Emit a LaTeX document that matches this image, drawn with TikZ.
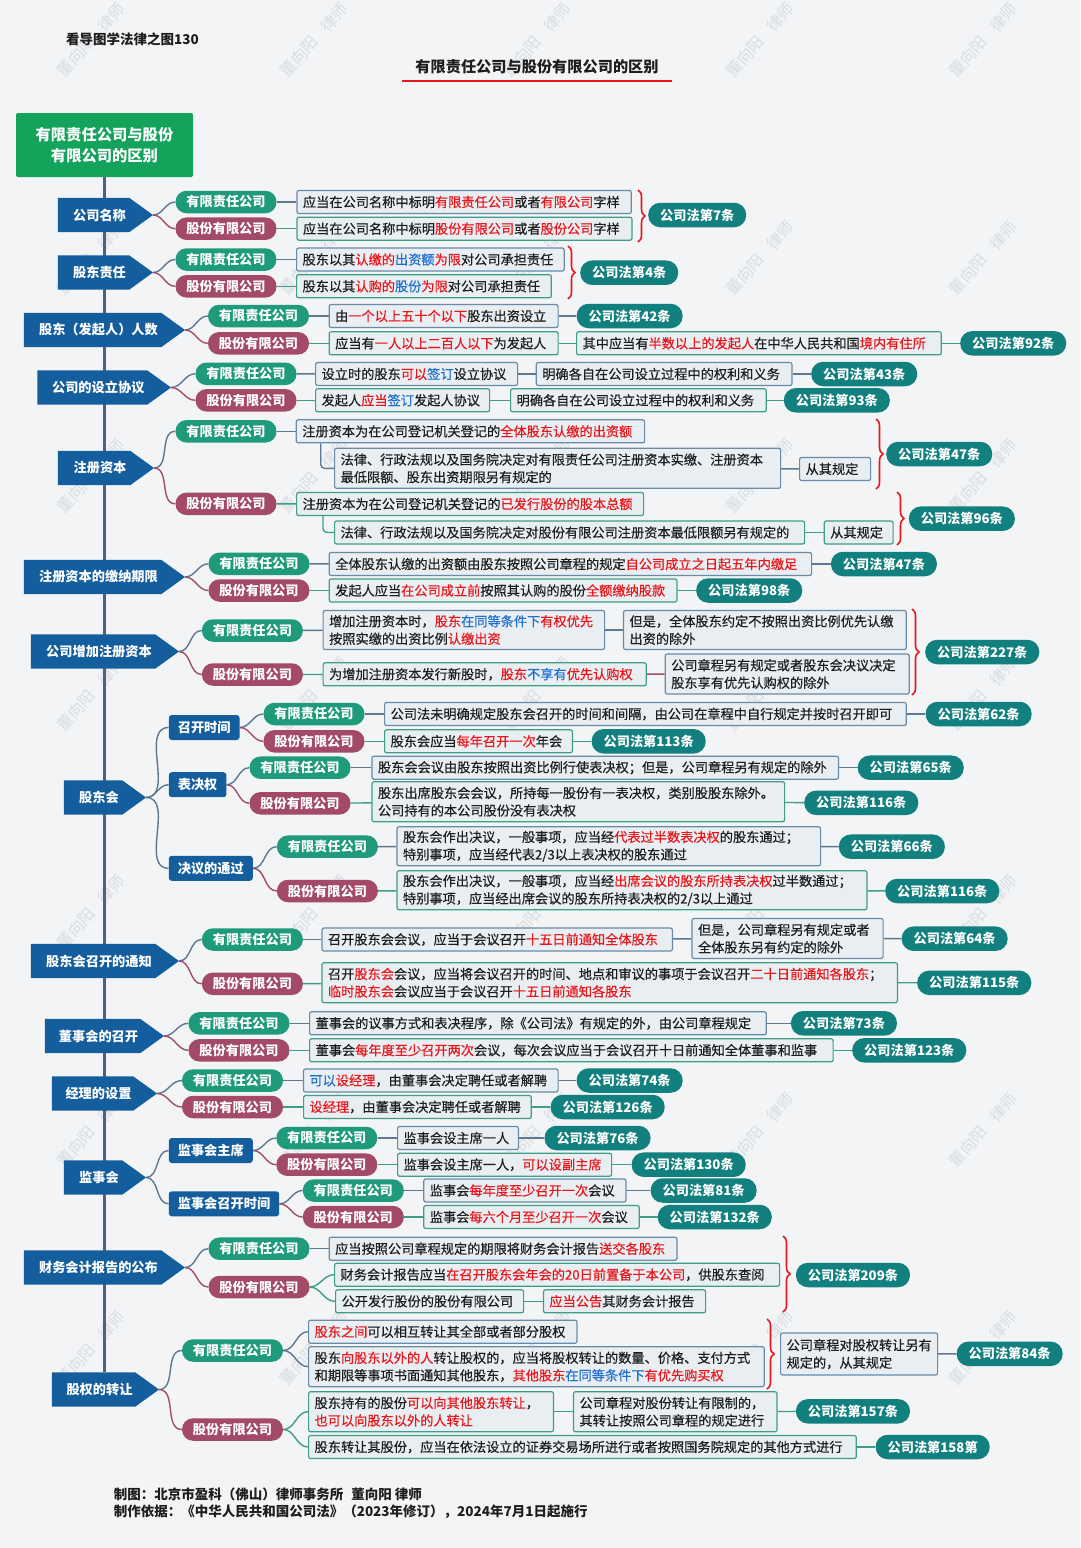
\documentclass[tikz,border=0pt]{standalone}
\usepackage{fontspec}
\setmainfont{Noto Sans CJK SC}
\newfontfamily\bodyfont{Noto Sans CJK SC}[FakeBold=0.4]
\usetikzlibrary{decorations.pathreplacing,calc}
\pgfdeclarelayer{bg}
\pgfdeclarelayer{lines}
\pgfsetlayers{bg,lines,main}

\definecolor{pagebg}{HTML}{F2F4F6}
\definecolor{wmcol}{HTML}{D9DDE1}
\definecolor{catblue}{HTML}{155E9E}
\definecolor{rootgreen}{HTML}{13A35B}
\definecolor{ltdfill}{HTML}{1F9B7C}
\definecolor{jscfill}{HTML}{A34A66}
\definecolor{lawfill}{HTML}{12807E}
\definecolor{boxfill}{HTML}{E8EEF2}
\definecolor{ltdedge}{HTML}{6A8BA6}
\definecolor{jscedge}{HTML}{3F9E86}
\definecolor{ltdwire}{HTML}{5E7891}
\definecolor{jscwire}{HTML}{A24D69}
\definecolor{trunkcol}{HTML}{4B6380}
\definecolor{hlred}{HTML}{E8171C}
\definecolor{hlblue}{HTML}{1F6FCF}
\definecolor{ink}{HTML}{1E1E1E}

\newcommand\fbody{\bodyfont\fontsize{13.2pt}{17.5pt}\selectfont}
\newcommand\fpill{\fontsize{13.2pt}{16pt}\selectfont}
\newcommand\hlr[1]{\textcolor{hlred}{#1}}
\newcommand\hlb[1]{\textcolor{hlblue}{#1}}

% category arrow: name, left x, tip x, centre y, label
\newcommand\mkcat[5]{%
  \pgfmathsetmacro\catw{#3-#2-12}%
  \node[catlabel, minimum width=\catw pt] (#1) at ({(#2+#3-12)/2},#4) {#5};
  \coordinate (#1-tip) at (#3,#4);
  \begin{pgfonlayer}{lines}
    \fill[catblue] (#1.north west) -- ([xshift=-12pt]#1.north east) -- (#1-tip)
      -- ([xshift=-12pt]#1.south east) -- (#1.south west) -- cycle;
  \end{pgfonlayer}}
\newcommand\mkltd[3]{\node[ltdpill] (#1) at (#2,#3) {有限责任公司};}
\newcommand\mkjsc[3]{\node[jscpill] (#1) at (#2,#3) {股份有限公司};}
\newcommand\mklaw[4]{\node[lawpill] (#1) at (#2,#3) {#4};}
% text box: style, name, left x, right x, centre y, text
\newcommand\mkbox[6]{%
  \pgfmathsetmacro\boxtw{#4-#3-12}%
  \node[#1, text width=\boxtw pt] (#2) at (#3,#5) {#6};}

\begin{document}
\begin{tikzpicture}[x=1pt,y=-1pt,
  catlabel/.style={inner sep=0pt, minimum height=34pt, text=white,
    font=\bfseries\fpill},
  subcat/.style={fill=catblue, rounded corners=3pt, minimum height=25pt,
    inner xsep=9pt, inner ysep=0pt, anchor=west, text=white, font=\bfseries\fpill},
  pill/.style={rounded corners=11pt, minimum height=22.5pt, minimum width=101pt,
    inner sep=0pt, text=white, font=\bfseries\fpill},
  ltdpill/.style={pill, fill=ltdfill},
  jscpill/.style={pill, fill=jscfill},
  lawpill/.style={fill=lawfill, rounded corners=12pt, minimum height=24.5pt,
    inner xsep=12pt, inner ysep=0pt, anchor=west, text=white, font=\bfseries\fpill},
  cbox/.style={fill=boxfill, line width=1.2pt, rounded corners=2pt, inner xsep=6pt,
    inner ysep=2pt, minimum height=23pt, anchor=west, align=left, text=ink,
    font=\fbody},
  boxl/.style={cbox, draw=ltdedge},
  boxj/.style={cbox, draw=jscedge},
  tall/.style={minimum height=40pt},
  wl/.style={draw=ltdwire, line width=1.4pt},
  wj/.style={draw=jscwire, line width=1.4pt},
  gl/.style={draw=jscedge, line width=1.4pt},
  bracer/.style={draw=hlred, line width=1.6pt, decorate,
    decoration={brace, amplitude=7pt}},
  wmark/.style={text=wmcol, rotate=48, font=\fontsize{16pt}{18pt}\selectfont},
  plain/.style={inner sep=0pt, anchor=west, text=ink}
]
\useasboundingbox (0,0) rectangle (1080,1548);

\begin{pgfonlayer}{bg}
  \fill[pagebg] (0,0) rectangle (1080,1548);
  \foreach \i in {0,...,4}{\foreach \j in {0,...,6}{
    \node[wmark] (wm-\i-\j) at ({91+223*\i},{40+218*\j}) {董向阳\hspace{0.8em}律师};}}
\end{pgfonlayer}

% headings
\node[plain, font=\bfseries\fontsize{13.5pt}{16pt}\selectfont] (series) at (66,39) {看导图学法律之图130};
\node[inner sep=0pt, text=ink, font=\bfseries\fontsize{15.2pt}{18pt}\selectfont] (title) at (537,66.7) {有限责任公司与股份有限公司的区别};
\coordinate (ulA) at (402,80.7);
\coordinate (ulB) at (672,80.7);
\draw[hlred, line width=2pt] (ulA) -- (ulB);

\node[fill=rootgreen, rounded corners=2pt, minimum width=177pt, minimum height=64pt,
  inner sep=0pt, align=center, text=white,
  font=\bfseries\fontsize{15.3pt}{21pt}\selectfont] (root) at (104.5,145) {有限责任公司与股份\\有限公司的区别};

% ---------- 公司名称
\mkcat{c1}{58}{153}{215}{公司名称}
\mkltd{r1a}{226}{202}
\mkjsc{r1b}{226}{228.7}
\mkbox{boxl}{r1a1}{296.4}{630.7}{202}{应当在公司名称中标明\hlr{有限责任公司}或者\hlr{有限公司}字样}
\mkbox{boxj}{r1b1}{296.4}{631.4}{228.7}{应当在公司名称中标明\hlr{股份有限公司}或者\hlr{股份公司}字样}
\mklaw{l1}{648}{215}{公司法第7条}
\coordinate (br1t) at (638,190);
\coordinate (br1b) at (638,242);

% ---------- 股东责任
\mkcat{c2}{58}{153}{272.5}{股东责任}
\mkltd{r2a}{226}{259.5}
\mkjsc{r2b}{226}{286.3}
\mkbox{boxl}{r2a1}{296}{563.6}{259.5}{股东以其\hlr{认缴的}\hlb{出资额}\hlr{为限}对公司承担责任}
\mkbox{boxj}{r2b1}{296}{550.7}{286.3}{股东以其\hlr{认购的}\hlb{股份}\hlr{为限}对公司承担责任}
\mklaw{l2}{580}{272.7}{公司法第4条}
\coordinate (br2t) at (568,246);
\coordinate (br2b) at (568,299);

% ---------- 股东（发起人）人数
\mkcat{c3}{24}{185}{330}{股东（发起人）人数}
\mkltd{r3a}{258.5}{316}
\mkjsc{r3b}{258.5}{343.3}
\mkbox{boxl}{r3a1}{328.6}{557.5}{316}{由\hlr{一个以上五十个以下}股东出资设立}
\mkbox{boxj}{r3b1}{328.6}{557.5}{343.3}{应当有\hlr{一人以上二百人以下}为发起人}
\mkbox{boxj}{r3b2}{576}{940.7}{343.3}{其中应当有\hlr{半数以上的发起人}在中华人民共和国\hlr{境内有住所}}
\mklaw{l3a}{576.4}{316}{公司法第42条}
\mklaw{l3b}{960}{343.3}{公司法第92条}

% ---------- 公司的设立协议
\mkcat{c4}{37.5}{171}{387.5}{公司的设立协议}
\mkltd{r4a}{246}{373.8}
\mkjsc{r4b}{246}{400.3}
\mkbox{boxl}{r4a1}{315}{517}{374}{设立时的股东\hlr{可以}\hlb{签订}设立协议}
\mkbox{boxl}{r4a2}{535.7}{791.4}{374}{明确各自在公司设立过程中的权利和义务}
\mkbox{boxj}{r4b1}{315}{489}{400.3}{发起人\hlr{应当}\hlb{签订}发起人协议}
\mkbox{boxj}{r4b2}{510}{765.7}{400.3}{明确各自在公司设立过程中的权利和义务}
\mklaw{l4a}{811}{374}{公司法第43条}
\mklaw{l4b}{783.6}{400.3}{公司法第93条}

% ---------- 注册资本
\mkcat{c5}{58}{154}{468}{注册资本}
\mkltd{r5a}{226}{431.3}
\mkjsc{r5b}{226}{503.8}
\mkbox{boxl}{r5a1}{295.7}{644}{431.3}{注册资本为在公司登记机关登记的\hlr{全体股东认缴的出资额}}
\mkbox{boxl,tall}{r5a2}{334}{780}{468.3}{法律、行政法规以及国务院决定对有限责任公司注册资本实缴、注册资本\\最低限额、股东出资期限另有规定的}
\mkbox{boxl}{r5a3}{799}{870}{469}{从其规定}
\mkbox{boxj}{r5b1}{296}{643}{504}{注册资本为在公司登记机关登记的\hlr{已发行股份的股本总额}}
\mkbox{boxj}{r5b2}{334}{804}{532.5}{法律、行政法规以及国务院决定对股份有限公司注册资本最低限额另有规定的}
\mkbox{boxj}{r5b3}{823.6}{892.5}{532.5}{从其规定}
\mklaw{l5a}{886}{454}{公司法第47条}
\mklaw{l5b}{908.6}{518.7}{公司法第96条}
\coordinate (br5t) at (876,419);
\coordinate (br5b) at (876,489);
\coordinate (br5u) at (897,492);
\coordinate (br5v) at (897,545);

% ---------- 注册资本的缴纳期限
\mkcat{c6}{24}{185}{577}{注册资本的缴纳期限}
\mkltd{r6a}{259}{563.8}
\mkjsc{r6b}{259}{590.5}
\mkbox{boxl}{r6a1}{328.6}{811}{564}{全体股东认缴的出资额由股东按照公司章程的规定\hlr{自公司成立之日起五年内缴足}}
\mkbox{boxj}{r6b1}{328.6}{676.4}{590.5}{发起人应当\hlr{在公司成立前}按照其认购的股份\hlr{全额缴纳股款}}
\mklaw{l6a}{830.7}{564}{公司法第47条}
\mklaw{l6b}{696}{590.5}{公司法第98条}

% ---------- 公司增加注册资本
\mkcat{c7}{31}{179}{651.5}{公司增加注册资本}
\mkltd{r7a}{252.4}{630.5}
\mkjsc{r7b}{252.4}{674.5}
\mkbox{boxl,minimum height=39pt}{r7a1}{322.5}{604}{630}{增加注册资本时，\hlr{股东}\hlb{在同等条件下}\hlr{有权优先}\\按照实缴的出资比例\hlr{认缴出资}}
\mkbox{boxl,minimum height=39pt}{r7a2}{622.9}{905.7}{630}{但是，全体股东约定不按照出资比例优先认缴\\出资的除外}
\mkbox{boxj}{r7b1}{322.5}{645.7}{674.3}{为增加注册资本发行新股时，\hlr{股东}\hlb{不享有}\hlr{优先认购权}}
\mkbox{boxl,tall}{r7b2}{664.6}{908.6}{674}{公司章程另有规定或者股东会决议决定\\股东享有优先认购权的除外}
\mklaw{l7}{925}{652}{公司法第227条}
\coordinate (br7t) at (912,609);
\coordinate (br7b) at (912,695);

% ---------- 股东会
\mkcat{c8}{64}{146}{797.5}{股东会}
\node[subcat] (s1) at (168.6,727.5) {召开时间};
\node[subcat] (s2) at (168.6,784.7) {表决权};
\node[subcat] (s3) at (168.6,868.3) {决议的通过};
\mkltd{r8a}{314}{714}
\mkjsc{r8b}{314}{741.3}
\mkbox{boxl}{r8a1}{384}{905.7}{714}{公司法未明确规定股东会召开的时间和间隔，由公司在章程中自行规定并按时召开即可}
\mkbox{boxj}{r8b1}{384}{571.8}{741.3}{股东会应当\hlr{每年召开一次}年会}
\mklaw{l8a}{925.4}{714}{公司法第62条}
\mklaw{l8b}{591.4}{741.3}{公司法第113条}
\mkltd{r8c}{300}{767.7}
\mkjsc{r8d}{300}{803.3}
\mkbox{boxl}{r8c1}{371.4}{837.9}{767.7}{股东会会议由股东按照出资比例行使表决权；但是，公司章程另有规定的除外}
\mkbox{boxj,tall}{r8d1}{371.4}{784}{801.7}{股东出席股东会会议，所持每一股份有一表决权，类别股股东除外。\\公司持有的本公司股份没有表决权}
\mklaw{l8c}{857.5}{767.7}{公司法第65条}
\mklaw{l8d}{804}{802.8}{公司法第116条}
\mkltd{r8e}{327.4}{846.7}
\mkjsc{r8f}{327.4}{891}
\mkbox{boxl,minimum height=39pt}{r8e1}{396.4}{820}{846.3}{股东会作出决议，一般事项，应当经\hlr{代表过半数表决权}的股东通过；\\特别事项，应当经代表2/3以上表决权的股东通过}
\mkbox{boxj,minimum height=39pt}{r8f1}{396.4}{866.4}{890.3}{股东会作出决议，一般事项，应当经\hlr{出席会议的股东所持表决权}过半数通过；\\特别事项，应当经出席会议的股东所持表决权的2/3以上通过}
\mklaw{l8e}{838.6}{846.7}{公司法第66条}
\mklaw{l8f}{885}{891}{公司法第116条}

% ---------- 股东会召开的通知
\mkcat{c9}{31}{179}{961}{股东会召开的通知}
\mkltd{r9a}{252.4}{939.5}
\mkjsc{r9b}{252.4}{983.8}
\mkbox{boxl}{r9a1}{321.4}{671.8}{939.5}{召开股东会会议，应当于会议召开\hlr{十五日前通知全体股东}}
\mkbox{boxl,tall}{r9a2}{691.4}{882.5}{938.5}{但是，公司章程另有规定或者\\全体股东另有约定的除外}
\mkbox{boxj,tall}{r9b1}{321.4}{896.8}{982.7}{召开\hlr{股东会}会议，应当将会议召开的时间、地点和审议的事项于会议召开\hlr{二十日前通知各股东}；\\\hlr{临时股东会}会议应当于会议召开\hlr{十五日前通知各股东}}
\mklaw{l9a}{901.4}{938.7}{公司法第64条}
\mklaw{l9b}{917}{982.8}{公司法第115条}

% ---------- 董事会的召开
\mkcat{c10}{45}{164}{1036}{董事会的召开}
\mkltd{r10a}{239}{1023.3}
\mkjsc{r10b}{239}{1050.3}
\mkbox{boxl}{r10a1}{309}{765.7}{1023.3}{董事会的议事方式和表决程序，除《公司法》有规定的外，由公司章程规定}
\mkbox{boxj}{r10b1}{309}{832.5}{1050.3}{董事会\hlr{每年度至少召开两次}会议，每次会议应当于会议召开十日前通知全体董事和监事}
\mklaw{l10a}{790.7}{1023.3}{公司法第73条}
\mklaw{l10b}{852}{1050.3}{公司法第123条}

% ---------- 经理的设置
\mkcat{c11}{52}{157}{1093.5}{经理的设置}
\mkltd{r11a}{232.5}{1080.5}
\mkjsc{r11b}{232.5}{1107}
\mkbox{boxl}{r11a1}{302.9}{557.5}{1080.5}{\hlb{可以}\hlr{设经理}，由董事会决定聘任或者解聘}
\mkbox{boxj}{r11b1}{303}{530.7}{1107}{\hlr{设经理}，由董事会决定聘任或者解聘}
\mklaw{l11a}{576.4}{1080.5}{公司法第74条}
\mklaw{l11b}{550.4}{1107}{公司法第126条}

% ---------- 监事会
\mkcat{c12}{64}{146}{1177.5}{监事会}
\node[subcat] (s4) at (168.6,1150.5) {监事会主席};
\node[subcat] (s5) at (168.6,1203.8) {监事会召开时间};
\mkltd{r12a}{326.8}{1138}
\mkjsc{r12b}{326.8}{1164.7}
\mkbox{boxl}{r12a1}{397}{517.9}{1138}{监事会设主席一人}
\mkbox{boxj}{r12b1}{397}{611}{1164.7}{监事会设主席一人，\hlr{可以设副主席}}
\mklaw{l12a}{544.3}{1138}{公司法第76条}
\mklaw{l12b}{631.4}{1164.7}{公司法第130条}
\mkltd{r12c}{353.3}{1190.5}
\mkjsc{r12d}{353.3}{1217}
\mkbox{boxl}{r12c1}{423.2}{625.4}{1190.5}{监事会\hlr{每年度至少召开一次}会议}
\mkbox{boxj}{r12d1}{423.2}{638.6}{1217}{监事会\hlr{每六个月至少召开一次}会议}
\mklaw{l12c}{650.4}{1190.5}{公司法第81条}
\mklaw{l12d}{657.5}{1217}{公司法第132条}

% ---------- 财务会计报告的公布
\mkcat{c13}{24}{185}{1267.5}{财务会计报告的公布}
\mkltd{r13a}{259}{1248.7}
\mkjsc{r13b}{259}{1287}
\mkbox{boxl}{r13a1}{328.6}{676.4}{1248.7}{应当按照公司章程规定的期限将财务会计报告\hlr{送交各股东}}
\mkbox{boxj}{r13b1}{334}{779}{1274.7}{财务会计报告应当\hlr{在召开股东会年会的20日前置备于本公司}，供股东查阅}
\mkbox{boxj}{r13b2}{335}{523}{1301.3}{公开发行股份的股份有限公司}
\mkbox{boxj}{r13b3}{542.9}{705}{1301.3}{\hlr{应当公告}其财务会计报告}
\mklaw{l13}{795.7}{1275}{公司法第209条}
\coordinate (br13t) at (783,1236);
\coordinate (br13b) at (783,1312);

% ---------- 股权的转让
\mkcat{c14}{52}{159}{1389.5}{股权的转让}
\mkltd{r14a}{232.5}{1350.5}
\mkjsc{r14b}{232.5}{1429.5}
\mkbox{boxl}{r14a1}{308}{576.4}{1331.7}{\hlr{股东之间}可以相互转让其全部或者部分股权}
\mkbox{boxl,tall}{r14a2}{308}{763.6}{1366.7}{股东\hlr{向股东以外的人}转让股权的，应当将股权转让的数量、价格、支付方式\\和期限等事项书面通知其他股东，\hlr{其他股东}\hlb{在同等条件下}\hlr{有优先购买权}}
\mkbox{boxl,minimum height=42pt}{r14k}{780}{937}{1354}{公司章程对股权转让另有\\规定的，从其规定}
\mkbox{boxj,tall}{r14b1}{308}{552.9}{1411.7}{股东持有的股份\hlr{可以向其他股东转让}，\\\hlr{也可以向股东以外的人转让}}
\mkbox{boxj,tall}{r14b2}{572.9}{776.4}{1411.7}{公司章程对股份转让有限制的，\\其转让按照公司章程的规定进行}
\mkbox{boxj}{r14b3}{308}{855.7}{1447}{股东转让其股份，应当在依法设立的证券交易场所进行或者按照国务院规定的其他方式进行}
\mklaw{l14a}{956.4}{1353.8}{公司法第84条}
\mklaw{l14b}{795.7}{1411.3}{公司法第157条}
\mklaw{l14c}{875.4}{1447}{公司法第158第}
\coordinate (br14t) at (767,1319);
\coordinate (br14b) at (767,1389);

% footer
\node[plain, font=\bfseries\fontsize{13.5pt}{16pt}\selectfont] (credit) at (113.6,1494) {制图：北京市盈科（佛山）律师事务所\hspace{0.6em}董向阳 律师};
\node[plain, font=\bfseries\fontsize{13.5pt}{16pt}\selectfont] (basis) at (113.6,1511.7) {制作依据：《中华人民共和国公司法》（2023年修订），2024年7月1日起施行};

% trunk
\begin{pgfonlayer}{bg}
  \draw[trunkcol, line width=3pt] (root.south) -- (root.south |- c14.north);
\end{pgfonlayer}

% connectors
\begin{pgfonlayer}{lines}
  % 公司名称
  \draw[wl] (c1-tip) to[out=0,in=180] (r1a.west);
  \draw[wj] (c1-tip) to[out=0,in=180] (r1b.west);
  \draw[wl] (r1a) -- (r1a1);
  \draw[gl] (r1b) -- (r1b1);
  % 股东责任
  \draw[wl] (c2-tip) to[out=0,in=180] (r2a.west);
  \draw[wj] (c2-tip) to[out=0,in=180] (r2b.west);
  \draw[wl] (r2a) -- (r2a1);
  \draw[gl] (r2b) -- (r2b1);
  % 人数
  \draw[wl] (c3-tip) to[out=0,in=180] (r3a.west);
  \draw[wj] (c3-tip) to[out=0,in=180] (r3b.west);
  \draw[wl] (r3a) -- (r3a1);
  \draw[wl] (r3a1) -- (l3a);
  \draw[gl] (r3b) -- (r3b1);
  \draw[gl] (r3b1) -- (r3b2);
  \draw[gl] (r3b2) -- (l3b);
  % 设立协议
  \draw[wl] (c4-tip) to[out=0,in=180] (r4a.west);
  \draw[wj] (c4-tip) to[out=0,in=180] (r4b.west);
  \draw[wl] (r4a) -- (r4a1);
  \draw[wl] (r4a1) -- (r4a2);
  \draw[wl] (r4a2) -- (l4a);
  \draw[gl] (r4b) -- (r4b1);
  \draw[gl] (r4b1) -- (r4b2);
  \draw[gl] (r4b2) -- (l4b);
  % 注册资本
  \draw[wl] (c5-tip) to[out=0,in=180] (r5a.west);
  \draw[wj] (c5-tip) to[out=0,in=180] (r5b.west);
  \draw[wl] (r5a) -- (r5a1);
  \draw[wl, rounded corners=4pt] ([xshift=25pt]r5a1.south west) |- (r5a2.west);
  \draw[wl] (r5a2) -- (r5a3);
  \draw[gl] (r5b) -- (r5b1);
  \draw[gl, rounded corners=4pt] ([xshift=27pt]r5b1.south west) |- (r5b2.west);
  \draw[gl] (r5b2) -- (r5b3);
  % 缴纳期限
  \draw[wl] (c6-tip) to[out=0,in=180] (r6a.west);
  \draw[wj] (c6-tip) to[out=0,in=180] (r6b.west);
  \draw[wl] (r6a) -- (r6a1);
  \draw[wl] (r6a1) -- (l6a);
  \draw[gl] (r6b) -- (r6b1);
  \draw[gl] (r6b1) -- (l6b);
  % 增加注册资本
  \draw[wl] (c7-tip) to[out=0,in=180] (r7a.west);
  \draw[wj] (c7-tip) to[out=0,in=180] (r7b.west);
  \draw[wl] (r7a) -- (r7a1);
  \draw[wl] (r7a1) -- (r7a2);
  \draw[gl] (r7b) -- (r7b1);
  \draw[wj] (r7b1) -- (r7b2);
  % 股东会
  \draw[wl] (c8-tip) to[out=0,in=180] (s1.west);
  \draw[wl] (c8-tip) to[out=0,in=180] (s2.west);
  \draw[wl] (c8-tip) to[out=0,in=180] (s3.west);
  \draw[wl] (s1.east) to[out=0,in=180] (r8a.west);
  \draw[wj] (s1.east) to[out=0,in=180] (r8b.west);
  \draw[wl] (s2.east) to[out=0,in=180] (r8c.west);
  \draw[wj] (s2.east) to[out=0,in=180] (r8d.west);
  \draw[wl] (s3.east) to[out=0,in=180] (r8e.west);
  \draw[wj] (s3.east) to[out=0,in=180] (r8f.west);
  \draw[wl] (r8a) -- (r8a1);
  \draw[wl] (r8a1) -- (l8a);
  \draw[gl] (r8b) -- (r8b1);
  \draw[gl] (r8b1) -- (l8b);
  \draw[wl] (r8c) -- (r8c1);
  \draw[wl] (r8c1) -- (l8c);
  \draw[gl] (r8d) -- (r8d1);
  \draw[gl] (r8d1) -- (l8d);
  \draw[wl] (r8e) -- (r8e1);
  \draw[wl] (r8e1) -- (l8e);
  \draw[gl] (r8f) -- (r8f1);
  \draw[gl] (r8f1) -- (l8f);
  % 通知
  \draw[wl] (c9-tip) to[out=0,in=180] (r9a.west);
  \draw[wj] (c9-tip) to[out=0,in=180] (r9b.west);
  \draw[wl] (r9a) -- (r9a1);
  \draw[wl] (r9a1) -- (r9a2);
  \draw[wl] (r9a2) -- (l9a);
  \draw[gl] (r9b) -- (r9b1);
  \draw[gl] (r9b1) -- (l9b);
  % 董事会
  \draw[wl] (c10-tip) to[out=0,in=180] (r10a.west);
  \draw[wj] (c10-tip) to[out=0,in=180] (r10b.west);
  \draw[wl] (r10a) -- (r10a1);
  \draw[wl] (r10a1) -- (l10a);
  \draw[gl] (r10b) -- (r10b1);
  \draw[gl] (r10b1) -- (l10b);
  % 经理
  \draw[wl] (c11-tip) to[out=0,in=180] (r11a.west);
  \draw[wj] (c11-tip) to[out=0,in=180] (r11b.west);
  \draw[wl] (r11a) -- (r11a1);
  \draw[wl] (r11a1) -- (l11a);
  \draw[gl] (r11b) -- (r11b1);
  \draw[gl] (r11b1) -- (l11b);
  % 监事会
  \draw[wl] (c12-tip) to[out=0,in=180] (s4.west);
  \draw[wl] (c12-tip) to[out=0,in=180] (s5.west);
  \draw[wl] (s4.east) to[out=0,in=180] (r12a.west);
  \draw[wj] (s4.east) to[out=0,in=180] (r12b.west);
  \draw[wl] (s5.east) to[out=0,in=180] (r12c.west);
  \draw[wj] (s5.east) to[out=0,in=180] (r12d.west);
  \draw[wl] (r12a) -- (r12a1);
  \draw[wl] (r12a1) -- (l12a);
  \draw[gl] (r12b) -- (r12b1);
  \draw[gl] (r12b1) -- (l12b);
  \draw[wl] (r12c) -- (r12c1);
  \draw[wl] (r12c1) -- (l12c);
  \draw[gl] (r12d) -- (r12d1);
  \draw[gl] (r12d1) -- (l12d);
  % 财务会计报告
  \draw[wl] (c13-tip) to[out=0,in=180] (r13a.west);
  \draw[wj] (c13-tip) to[out=0,in=180] (r13b.west);
  \draw[wl] (r13a) -- (r13a1);
  \draw[gl] (r13b.east) to[out=0,in=180] (r13b1.west);
  \draw[gl] (r13b.east) to[out=0,in=180] (r13b2.west);
  \draw[gl] (r13b2) -- (r13b3);
  % 股权转让
  \draw[wl] (c14-tip) to[out=0,in=180] (r14a.west);
  \draw[wj] (c14-tip) to[out=0,in=180] (r14b.west);
  \draw[wl] (r14a.east) to[out=0,in=180] (r14a1.west);
  \draw[wl] (r14a.east) to[out=0,in=180] (r14a2.west);
  \draw[wl] (r14k) -- (l14a);
  \draw[gl] (r14b.east) to[out=0,in=180] (r14b1.west);
  \draw[gl] (r14b.east) to[out=0,in=180] (r14b3.west);
  \draw[gl] (r14b1) -- (r14b2);
  \draw[gl] (r14b2) -- (l14b);
  \draw[gl] (r14b3) -- (l14c);
  % braces
  \draw[bracer] (br1t) -- (br1b);
  \draw[bracer] (br2t) -- (br2b);
  \draw[bracer] (br5t) -- (br5b);
  \draw[bracer] (br5u) -- (br5v);
  \draw[bracer] (br7t) -- (br7b);
  \draw[bracer] (br13t) -- (br13b);
  \draw[bracer] (br14t) -- (br14b);
\end{pgfonlayer}
\end{tikzpicture}
\end{document}
